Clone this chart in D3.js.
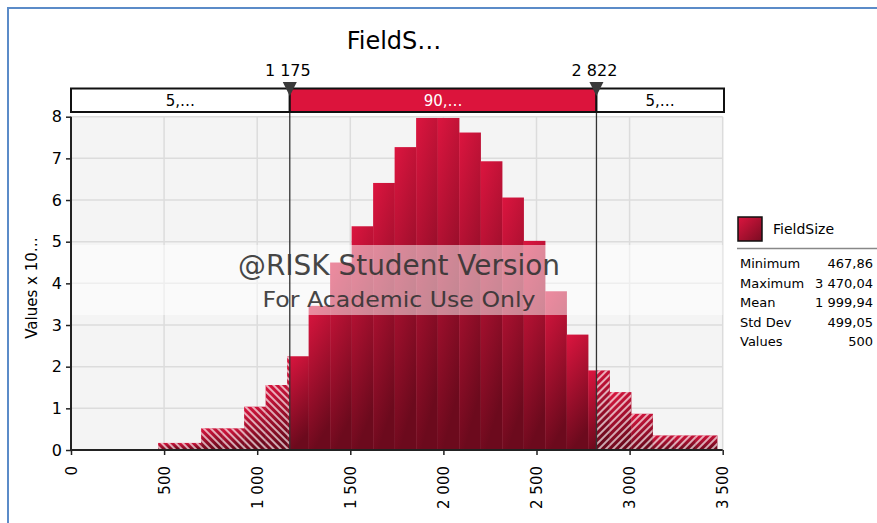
<!DOCTYPE html>
<html>
<head>
<meta charset="utf-8">
<script src="https://cdn.jsdelivr.net/npm/d3@7"></script>
<style>
  body { margin: 0; background: #fff; }
  svg { display: block; font-family: "DejaVu Sans", sans-serif; }
</style>
</head>
<body>
<div id="chart"></div>
<script>
// histogram densities (values x 10^-4), 26 equal bins between min and max
const densities = [0.17, 0.17, 0.52, 0.52, 1.04, 1.56, 2.25, 3.46, 4.50, 5.37, 6.41, 7.27, 7.97,
  7.97, 7.62, 6.93, 6.06, 5.02, 3.81, 2.77, 1.91, 1.39, 0.87, 0.35, 0.35, 0.35];
const dataMin = 467.86;
const dataMax = 3470.04;
const leftCut = 1175;
const rightCut = 2822;
const bandLabels = ["5,…", "90,…", "5,…"];
const xTicks = [0, 500, 1000, 1500, 2000, 2500, 3000, 3500];
const yTicks = [0, 1, 2, 3, 4, 5, 6, 7, 8];
const statNames = ["Minimum", "Maximum", "Mean", "Std Dev", "Values"];
const statValues = [467.86, 3470.04, 1999.94, 499.05, 500];

let width = 877;
let height = 523;
let crimson = "#dc143c";

let loc = d3.formatLocale({ decimal: ",", thousands: "\u00a0", grouping: [3], currency: ["", ""] });
let fmtInt = loc.format(",");
let fmtDec = loc.format(",.2f");

let xScale = d3.scaleLinear().domain([0, 3500]).range([71, 722.7]);
let yScale = d3.scaleLinear().domain([0, 8]).range([450, 116.7]);

let svg = d3.select("#chart").append("svg")
  .attr("width", width).attr("height", height);

let defs = svg.append("defs");

let grad = defs.append("linearGradient").attr("id", "barGrad")
  .attr("x1", 0).attr("y1", 0).attr("x2", 0.25).attr("y2", 1);
grad.append("stop").attr("offset", "0%").attr("stop-color", "#dc153f");
grad.append("stop").attr("offset", "100%").attr("stop-color", "#6c0a1d");

let legGrad = defs.append("linearGradient").attr("id", "legGrad")
  .attr("x1", 0).attr("y1", 0).attr("x2", 1).attr("y2", 1);
legGrad.append("stop").attr("offset", "0%").attr("stop-color", "#dc153f");
legGrad.append("stop").attr("offset", "100%").attr("stop-color", "#7a0c22");

function hatch(id, angle) {
  let p = defs.append("pattern").attr("id", id)
    .attr("patternUnits", "userSpaceOnUse")
    .attr("width", 5).attr("height", 10)
    .attr("patternTransform", `rotate(${angle})`);
  p.append("line").attr("x1", 1).attr("y1", 0).attr("x2", 1).attr("y2", 10)
    .attr("stroke", "#fff").attr("stroke-width", 1.3);
}
hatch("hatchL", -45);
hatch("hatchR", 45);

/* outer frame */
svg.append("rect")
  .attr("x", 8).attr("y", 8).attr("width", 1000).attr("height", 1000)
  .attr("fill", "none").attr("stroke", "#5b8bc8").attr("stroke-width", 2);

/* plot background + grid */
svg.append("rect")
  .attr("x", xScale(0)).attr("y", yScale(8))
  .attr("width", xScale(3500) - xScale(0)).attr("height", yScale(0) - yScale(8))
  .attr("fill", "#f4f4f4");

svg.append("g").selectAll("line").data(xTicks.slice(1)).enter().append("line")
  .attr("x1", d => xScale(d)).attr("x2", d => xScale(d))
  .attr("y1", yScale(8)).attr("y2", yScale(0))
  .attr("stroke", "#dcdcdc").attr("stroke-width", 1.5);

svg.append("g").selectAll("line").data(yTicks.slice(1)).enter().append("line")
  .attr("x1", xScale(0)).attr("x2", xScale(3500))
  .attr("y1", d => yScale(d)).attr("y2", d => yScale(d))
  .attr("stroke", "#dcdcdc").attr("stroke-width", 1.5);

/* bars */
let binW = (dataMax - dataMin) / densities.length;
let bins = densities.map((v, i) => ({ x0: dataMin + i * binW, x1: dataMin + (i + 1) * binW, v }));

svg.append("g").selectAll("rect").data(bins).enter().append("rect")
  .attr("x", d => xScale(d.x0))
  .attr("y", d => yScale(d.v))
  .attr("width", d => xScale(d.x1) - xScale(d.x0) + 0.3)
  .attr("height", d => yScale(0) - yScale(d.v))
  .attr("fill", "url(#barGrad)");

// hatched tails outside the cut values
let leftParts = bins.filter(d => d.x0 < leftCut)
  .map(d => ({ x0: d.x0, x1: Math.min(d.x1, leftCut), v: d.v }));
let rightParts = bins.filter(d => d.x1 > rightCut)
  .map(d => ({ x0: Math.max(d.x0, rightCut), x1: d.x1, v: d.v }));

[[leftParts, "hatchL"], [rightParts, "hatchR"]].forEach(([parts, pid]) => {
  svg.append("g").selectAll("rect").data(parts).enter().append("rect")
    .attr("x", d => xScale(d.x0))
    .attr("y", d => yScale(d.v))
    .attr("width", d => xScale(d.x1) - xScale(d.x0))
    .attr("height", d => yScale(0) - yScale(d.v))
    .attr("fill", `url(#${pid})`);
});

/* watermark */
svg.append("rect")
  .attr("x", xScale(0)).attr("y", 245)
  .attr("width", xScale(3500) - xScale(0)).attr("height", 70)
  .attr("fill", "#fff").attr("opacity", 0.5);

svg.append("text")
  .attr("x", 399).attr("y", 275)
  .attr("text-anchor", "middle")
  .style("font-size", "28px").style("fill", "#333").style("opacity", 0.9)
  .attr("textLength", 322).attr("lengthAdjust", "spacingAndGlyphs")
  .text("@RISK Student Version");

svg.append("text")
  .attr("x", 399).attr("y", 307)
  .attr("text-anchor", "middle")
  .style("font-size", "22px").style("fill", "#333").style("opacity", 0.9)
  .attr("textLength", 273).attr("lengthAdjust", "spacingAndGlyphs")
  .text("For Academic Use Only");

/* cut lines */
svg.append("g").selectAll("line").data([leftCut, rightCut]).enter().append("line")
  .attr("x1", d => xScale(d)).attr("x2", d => xScale(d))
  .attr("y1", 96).attr("y2", yScale(0))
  .attr("stroke", "#333").attr("stroke-width", 1.3);

/* axes */
let xAxis = d3.axisBottom(xScale).tickValues(xTicks).tickSize(5).tickFormat(fmtInt);
let yAxis = d3.axisLeft(yScale).tickValues(yTicks).tickSize(5).tickFormat(d3.format("d"));

let gx = svg.append("g")
  .attr("transform", `translate(0, ${yScale(0)})`)
  .call(xAxis);
gx.select(".domain").attr("stroke", "#222").attr("stroke-width", 2)
  .attr("d", `M${xScale(0)},0H${xScale(3500)}`);
gx.selectAll(".tick line").attr("stroke", "#222").attr("stroke-width", 1.5);
gx.selectAll(".tick text")
  .attr("transform", "rotate(-90)")
  .attr("x", -16).attr("y", 0).attr("dy", "0.35em")
  .attr("text-anchor", "end")
  .style("font-size", "15px").style("font-family", "DejaVu Sans").attr("fill", "#000");

let gy = svg.append("g")
  .attr("transform", `translate(${xScale(0)}, 0)`)
  .call(yAxis);
gy.select(".domain").attr("stroke", "#222").attr("stroke-width", 2)
  .attr("d", `M0,${yScale(8)}V${yScale(0) + 1}`);
gy.selectAll(".tick line").attr("stroke", "#222").attr("stroke-width", 1.5);
gy.selectAll(".tick text")
  .attr("x", -9)
  .style("font-size", "16px").style("font-family", "DejaVu Sans").attr("fill", "#000");

svg.append("text")
  .attr("transform", "translate(37, 288) rotate(-90)")
  .attr("text-anchor", "middle")
  .style("font-size", "15px")
  .text("Values x 10…");

/* title */
svg.append("text")
  .attr("x", 394).attr("y", 49)
  .attr("text-anchor", "middle")
  .style("font-size", "24px")
  .text("FieldS…");

/* percentile band */
let bandX = [xScale(0), xScale(leftCut), xScale(rightCut), 724];
let band = svg.append("g");
bandLabels.forEach((lab, i) => {
  band.append("rect")
    .attr("x", bandX[i]).attr("y", 88.5)
    .attr("width", bandX[i + 1] - bandX[i]).attr("height", 23.5)
    .attr("fill", i === 1 ? crimson : "#fff")
    .attr("stroke", "#111").attr("stroke-width", 2);
  band.append("text")
    .attr("x", (bandX[i] + bandX[i + 1]) / 2).attr("y", 106)
    .attr("text-anchor", "middle")
    .style("font-size", "15px")
    .attr("fill", i === 1 ? "#fff" : "#000")
    .text(lab);
});

[leftCut, rightCut].forEach(c => {
  let cx = xScale(c);
  svg.append("path")
    .attr("d", `M${cx - 7},82L${cx + 7},82L${cx},96Z`)
    .attr("fill", "#3a3a3a");
  svg.append("text")
    .attr("x", cx - 2).attr("y", 76)
    .attr("text-anchor", "middle")
    .style("font-size", "16px")
    .text(fmtInt(c));
});

/* legend */
let leg = svg.append("g");
leg.append("rect")
  .attr("x", 738).attr("y", 217).attr("width", 24).attr("height", 24)
  .attr("fill", "url(#legGrad)").attr("stroke", "#111").attr("stroke-width", 1.5);
leg.append("text")
  .attr("x", 773).attr("y", 234)
  .style("font-size", "14px")
  .text("FieldSize");
leg.append("line")
  .attr("x1", 737).attr("x2", 877).attr("y1", 248.5).attr("y2", 248.5)
  .attr("stroke", "#888").attr("stroke-width", 1.5);

statNames.forEach((n, i) => {
  let yy = 268 + i * 19.5;
  leg.append("text").attr("x", 740).attr("y", yy)
    .style("font-size", "13px").text(n);
  leg.append("text").attr("x", 873).attr("y", yy)
    .attr("text-anchor", "end")
    .style("font-size", "13px")
    .text(i === 4 ? fmtInt(statValues[i]) : fmtDec(statValues[i]));
});
</script>
</body>
</html>
